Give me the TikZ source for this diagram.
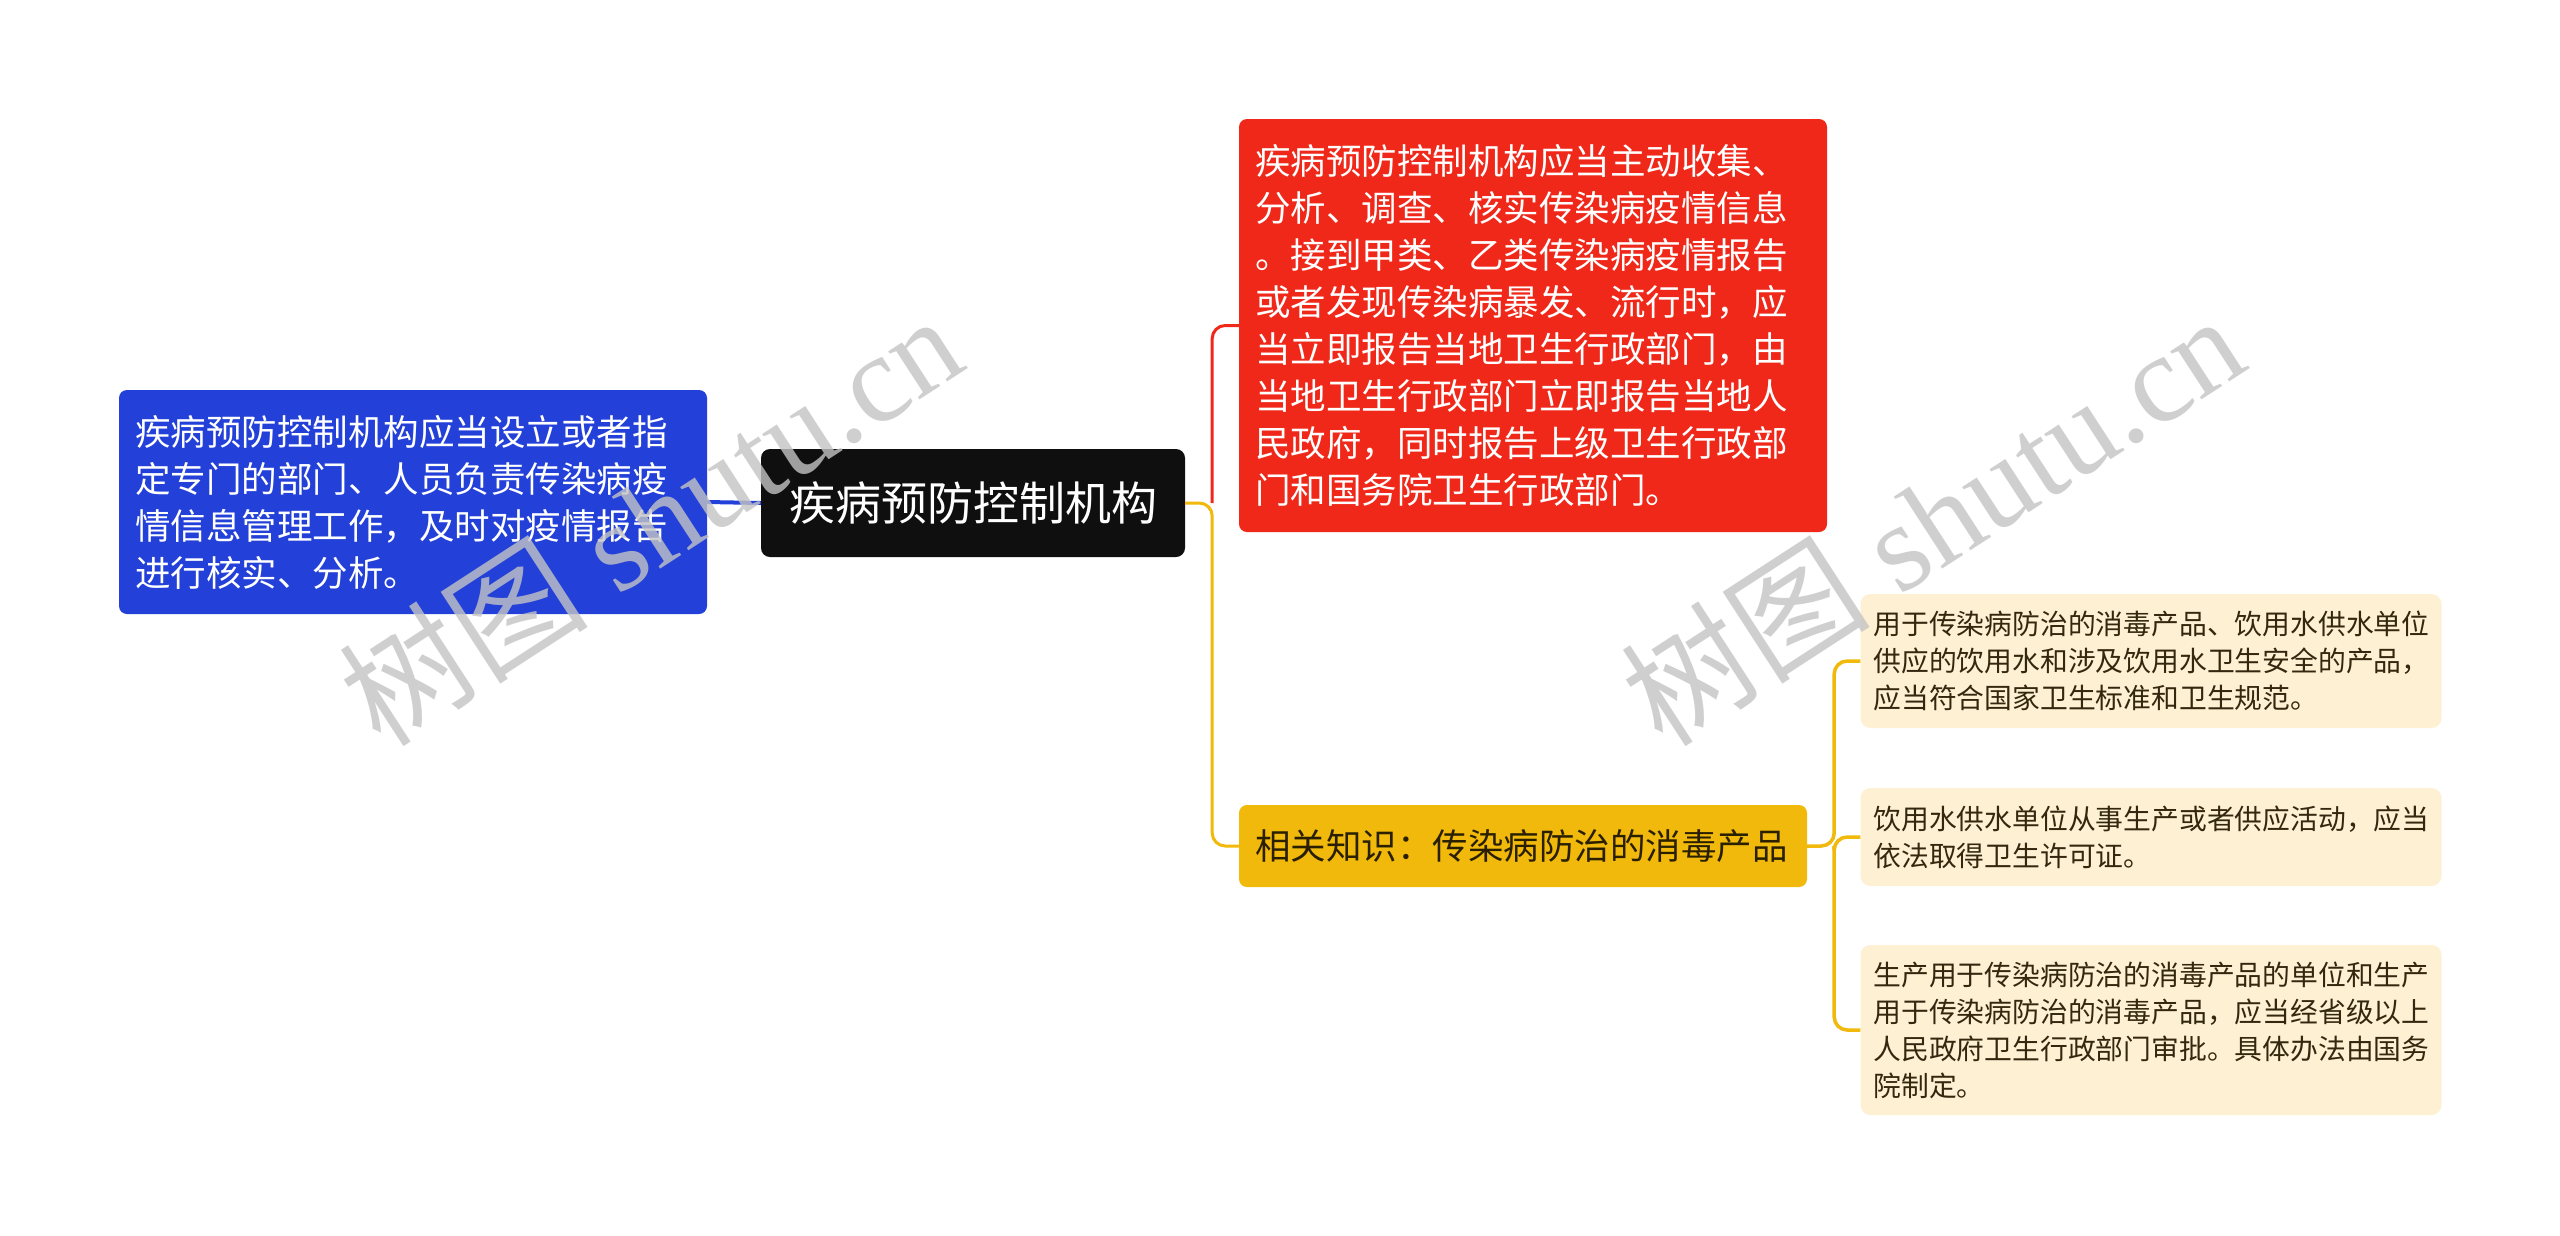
\documentclass[tikz,border=0pt]{standalone}
\usepackage{fontspec}
\newfontfamily\cjk{Noto Sans CJK SC}
\newfontfamily\wmserif{Liberation Serif}
\definecolor{cblue}{HTML}{2340D8}
\definecolor{cred}{HTML}{F0281A}
\definecolor{cblack}{HTML}{0F0F0F}
\definecolor{cyel}{HTML}{F0B90B}
\definecolor{ccream}{HTML}{FDF0D3}
\definecolor{cleaftext}{HTML}{33280F}
\definecolor{cyeltext}{HTML}{2A2000}
\definecolor{cwm}{HTML}{C4C4C4}
\tikzset{
  mainbox/.style={draw=none, rounded corners=8pt, inner xsep=16pt, inner ysep=0pt,
    align=left, text=white, font=\cjk\fontsize{35.5}{47}\selectfont},
  centerbox/.style={fill=cblack, rounded corners=9pt, inner sep=0pt, text=white,
    minimum width=424pt, minimum height=108pt, font=\cjk\fontsize{46}{56}\selectfont},
  leafbox/.style={fill=ccream, rounded corners=10pt, inner xsep=13pt, inner ysep=0pt,
    align=left, text=cleaftext, text width=555pt, minimum width=581pt,
    font=\cjk\fontsize{27.8}{37}\selectfont},
  conn/.style={line width=3pt, rounded corners=13pt},
  wmtext/.style={text=cwm, opacity=0.8, inner sep=0pt}
}
\begin{document}
\begin{tikzpicture}[x=1pt,y=-1pt]
\useasboundingbox[fill=white] (0,0) rectangle (2560,1235);

% nodes
\node[centerbox] (c) at (973,503) {疾病预防控制机构};

\node[mainbox, fill=cblue, text width=556pt, minimum width=588pt, minimum height=224pt] (b) at (413,502)
 {疾病预防控制机构应当设立或者指\\定专门的部门、人员负责传染病疫\\情信息管理工作，及时对疫情报告\\进行核实、分析。};

\node[mainbox, fill=cred, text width=556pt, minimum width=588pt, minimum height=413pt] (r) at (1533,325.5)
 {疾病预防控制机构应当主动收集、\\分析、调查、核实传染病疫情信息\\。接到甲类、乙类传染病疫情报告\\或者发现传染病暴发、流行时，应\\当立即报告当地卫生行政部门，由\\当地卫生行政部门立即报告当地人\\民政府，同时报告上级卫生行政部\\门和国务院卫生行政部门。};

\node[mainbox, fill=cyel, text=cyeltext, text width=536pt, minimum width=568pt, minimum height=82pt] (y) at (1523,846)
 {相关知识：传染病防治的消毒产品};

\node[leafbox, minimum height=134pt] (l1) at (2151,661)
 {用于传染病防治的消毒产品、饮用水供水单位\\供应的饮用水和涉及饮用水卫生安全的产品，\\应当符合国家卫生标准和卫生规范。};
\node[leafbox, minimum height=98pt] (l2) at (2151,837)
 {饮用水供水单位从事生产或者供应活动，应当\\依法取得卫生许可证。};
\node[leafbox, minimum height=170pt] (l3) at (2151,1030)
 {生产用于传染病防治的消毒产品的单位和生产\\用于传染病防治的消毒产品，应当经省级以上\\人民政府卫生行政部门审批。具体办法由国务\\院制定。};

% junctions
\coordinate (j1) at ([xshift=27pt]c.east);
\coordinate (j2) at ([xshift=27pt]y.east);

% connectors
\draw[line width=4pt, cblue] (c.west) -- (b.east);
\draw[conn, cred] (j1) |- (r.west);
\draw[conn, cyel] (c.east) -- (j1) |- (y.west);
\draw[conn, cyel, line width=3.5pt] (y.east) -- (j2) |- (l1.west);
\draw[conn, cyel, line width=3.5pt] (j2) |- (l2.west);
\draw[conn, cyel, line width=3.5pt] (j2) |- (l3.west);

% watermarks
\node[wmtext, rotate=33] (w1) at (650,519) {\fontsize{125}{125}\selectfont\cjk 树图\wmserif\ shutu.cn};
\node[wmtext, rotate=33] (w2) at (1932,519) {\fontsize{125}{125}\selectfont\cjk 树图\wmserif\ shutu.cn};
\end{tikzpicture}
\end{document}
